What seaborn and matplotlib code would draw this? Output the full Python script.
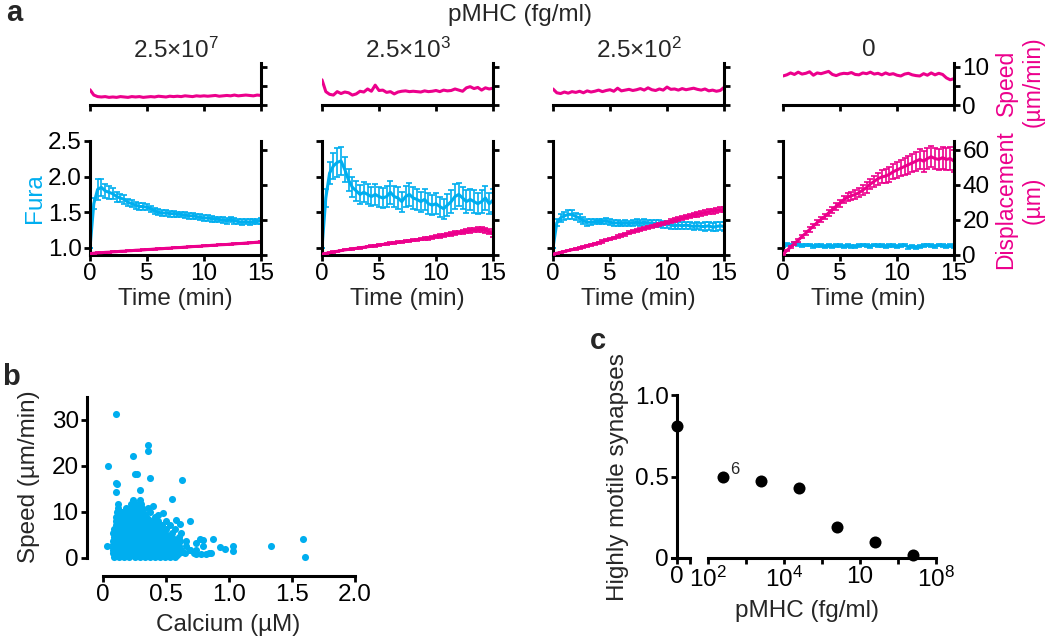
import numpy as np
import seaborn as sns
import matplotlib.pyplot as plt
from matplotlib.ticker import NullLocator

CYAN = "#00aeef"
MAGENTA = "#ec008c"

# ---- panel a: time courses (sampled every 20 s) ----
time_min = np.arange(46) / 3

titles = ["2.5×10$^{7}$", "2.5×10$^{3}$", "2.5×10$^{2}$", "0"]

speed_2_5e7 = [4.0, 2.6, 2.2, 2.1, 2.2, 2.0, 2.1, 2.0, 2.2, 2.1,
               2.0, 2.2, 2.1, 2.2, 2.0, 2.1, 2.2, 2.1, 2.3, 2.2,
               2.1, 2.3, 2.2, 2.3, 2.2, 2.4, 2.3, 2.2, 2.4, 2.3,
               2.4, 2.3, 2.4, 2.5, 2.3, 2.4, 2.5, 2.4, 2.6, 2.4,
               2.5, 2.6, 2.5, 2.4, 2.6, 2.5]
speed_2_5e3 = [6.6, 3.5, 2.8, 2.6, 3.5, 3.0, 3.4, 3.2, 2.6, 2.9,
               3.6, 3.4, 4.2, 3.6, 5.2, 3.8, 3.9, 3.3, 3.5, 2.9,
               3.4, 3.6, 3.7, 3.5, 3.6, 3.5, 3.4, 3.7, 3.5, 3.6,
               3.8, 3.5, 3.9, 3.7, 3.8, 4.2, 3.9, 3.6, 4.5, 4.8,
               4.3, 4.6, 3.9, 4.5, 4.2, 4.4]
speed_2_5e2 = [4.2, 3.2, 3.0, 3.4, 3.1, 3.5, 3.3, 3.6, 3.2, 3.7,
               3.4, 3.6, 3.9, 3.5, 3.8, 4.0, 3.6, 4.4, 3.7, 3.9,
               4.1, 3.8, 4.0, 4.3, 3.9, 4.5, 4.0, 3.8, 4.2, 3.9,
               4.7, 4.1, 4.2, 3.9, 4.3, 4.0, 4.2, 4.4, 4.1, 3.9,
               4.2, 3.7, 3.9, 3.6, 3.8, 4.6]
speed_0 = [7.6, 7.9, 8.4, 8.0, 8.6, 8.1, 8.3, 8.7, 7.8, 8.4,
           8.2, 8.5, 8.8, 8.0, 7.7, 8.1, 8.3, 8.2, 8.5, 8.0,
           7.9, 8.4, 8.2, 8.6, 8.1, 8.3, 7.9, 8.4, 8.0, 8.2,
           7.8, 7.6, 8.1, 8.3, 7.9, 7.7, 7.6, 8.2, 7.8, 8.4,
           7.9, 8.3, 8.0, 7.1, 6.6, 6.9]

fura_2_5e7 = [1.00, 1.62, 1.82, 1.85, 1.80, 1.78, 1.76, 1.72, 1.70, 1.68,
              1.64, 1.62, 1.60, 1.58, 1.58, 1.57, 1.55, 1.52, 1.50, 1.49,
              1.49, 1.48, 1.48, 1.47, 1.47, 1.46, 1.45, 1.45, 1.44, 1.43,
              1.42, 1.42, 1.41, 1.40, 1.40, 1.39, 1.38, 1.40, 1.38, 1.37,
              1.36, 1.37, 1.36, 1.37, 1.37, 1.38]
fura_2_5e7_err = [0.00, 0.08, 0.15, 0.12, 0.10, 0.09, 0.08, 0.07, 0.06, 0.06,
                  0.05, 0.05, 0.05, 0.05, 0.05, 0.04, 0.04, 0.04, 0.04, 0.04,
                  0.04, 0.04, 0.04, 0.04, 0.04, 0.04, 0.04, 0.04, 0.04, 0.04,
                  0.04, 0.04, 0.04, 0.04, 0.04, 0.04, 0.04, 0.04, 0.04, 0.04,
                  0.04, 0.04, 0.04, 0.04, 0.04, 0.04]
fura_2_5e3 = [1.00, 1.70, 2.05, 2.15, 2.20, 2.22, 2.10, 1.95, 1.85, 1.80,
              1.75, 1.78, 1.75, 1.72, 1.75, 1.72, 1.70, 1.72, 1.78, 1.72,
              1.70, 1.65, 1.72, 1.75, 1.70, 1.68, 1.65, 1.68, 1.62, 1.60,
              1.62, 1.58, 1.55, 1.60, 1.65, 1.72, 1.75, 1.70, 1.65, 1.68,
              1.65, 1.62, 1.65, 1.70, 1.62, 1.67]
fura_2_5e3_err = [0.00, 0.12, 0.15, 0.18, 0.20, 0.20, 0.18, 0.15, 0.14, 0.14,
                  0.13, 0.14, 0.14, 0.13, 0.15, 0.14, 0.14, 0.15, 0.16, 0.15,
                  0.15, 0.14, 0.15, 0.16, 0.15, 0.15, 0.14, 0.15, 0.15, 0.14,
                  0.15, 0.14, 0.14, 0.15, 0.16, 0.17, 0.16, 0.15, 0.16, 0.15,
                  0.16, 0.15, 0.16, 0.17, 0.15, 0.16]
fura_2_5e2 = [1.00, 1.35, 1.42, 1.45, 1.47, 1.47, 1.44, 1.42, 1.38, 1.36,
              1.36, 1.37, 1.37, 1.37, 1.38, 1.36, 1.35, 1.35, 1.34, 1.35,
              1.34, 1.35, 1.36, 1.35, 1.36, 1.35, 1.35, 1.34, 1.34, 1.33,
              1.33, 1.32, 1.31, 1.32, 1.31, 1.32, 1.31, 1.30, 1.31, 1.30,
              1.30, 1.31, 1.29, 1.30, 1.31, 1.30]
fura_2_5e2_err = [0.00, 0.05, 0.06, 0.06, 0.06, 0.06, 0.05, 0.05, 0.05, 0.05,
                  0.04, 0.04, 0.04, 0.04, 0.04, 0.04, 0.04, 0.04, 0.04, 0.04,
                  0.04, 0.04, 0.04, 0.04, 0.04, 0.04, 0.04, 0.05, 0.05, 0.05,
                  0.05, 0.05, 0.05, 0.05, 0.05, 0.05, 0.05, 0.05, 0.05, 0.05,
                  0.06, 0.06, 0.06, 0.06, 0.06, 0.06]
fura_0 = [1.02, 1.05, 1.04, 1.06, 1.05, 1.03, 1.04, 1.04, 1.02, 1.03,
          1.03, 1.02, 1.03, 1.02, 1.03, 1.03, 1.02, 1.03, 1.02, 1.02,
          1.03, 1.04, 1.03, 1.02, 1.04, 1.03, 1.03, 1.02, 1.03, 1.03,
          1.02, 1.03, 1.04, 1.01, 1.02, 1.01, 1.02, 1.03, 1.04, 1.03,
          1.02, 1.04, 1.03, 1.02, 1.03, 1.02]
fura_0_err = [0.01, 0.02, 0.02, 0.02, 0.02, 0.02, 0.02, 0.02, 0.02, 0.02,
              0.02, 0.02, 0.02, 0.02, 0.02, 0.02, 0.02, 0.02, 0.02, 0.02,
              0.02, 0.02, 0.02, 0.02, 0.02, 0.02, 0.02, 0.02, 0.02, 0.02,
              0.02, 0.02, 0.02, 0.02, 0.02, 0.02, 0.02, 0.02, 0.02, 0.02,
              0.02, 0.02, 0.02, 0.02, 0.02, 0.02]

disp_2_5e7 = [0.8, 1.0, 1.2, 1.3, 1.5, 1.6, 1.8, 1.9, 2.1, 2.2,
              2.4, 2.5, 2.7, 2.8, 2.9, 3.1, 3.2, 3.4, 3.5, 3.6,
              3.8, 3.9, 4.1, 4.2, 4.3, 4.5, 4.6, 4.8, 4.9, 5.0,
              5.2, 5.3, 5.5, 5.6, 5.8, 5.9, 6.0, 6.2, 6.3, 6.5,
              6.6, 6.8, 6.9, 7.1, 7.3, 7.5]
disp_2_5e7_err = [0.3, 0.3, 0.3, 0.3, 0.3, 0.3, 0.3, 0.3, 0.3, 0.3,
                  0.3, 0.3, 0.3, 0.3, 0.3, 0.3, 0.3, 0.3, 0.3, 0.3,
                  0.3, 0.3, 0.3, 0.3, 0.3, 0.3, 0.3, 0.3, 0.3, 0.3,
                  0.3, 0.3, 0.3, 0.3, 0.3, 0.3, 0.3, 0.3, 0.3, 0.3,
                  0.3, 0.3, 0.3, 0.3, 0.3, 0.3]
disp_2_5e3 = [0.5, 0.9, 1.3, 1.7, 2.1, 2.5, 2.9, 3.2, 3.5, 3.8,
              4.1, 4.4, 4.7, 5.0, 5.3, 5.7, 6.0, 6.3, 6.6, 6.9,
              7.2, 7.5, 7.8, 8.1, 8.4, 8.7, 9.0, 9.3, 9.6, 9.9,
              10.4, 10.8, 11.2, 11.6, 12.0, 12.4, 12.8, 13.2, 13.6, 14.0,
              14.3, 14.5, 14.6, 14.2, 13.2, 12.0]
disp_2_5e3_err = [0.2, 0.2, 0.2, 0.3, 0.3, 0.3, 0.3, 0.3, 0.4, 0.4,
                  0.4, 0.4, 0.4, 0.5, 0.5, 0.5, 0.5, 0.5, 0.6, 0.6,
                  0.6, 0.6, 0.6, 0.7, 0.7, 0.7, 0.7, 0.8, 0.8, 0.8,
                  0.8, 0.9, 0.9, 0.9, 1.0, 1.0, 1.0, 1.1, 1.1, 1.2,
                  1.2, 1.3, 1.3, 1.4, 1.4, 1.5]
disp_2_5e2 = [0.5, 1.0, 1.5, 2.0, 2.5, 3.0, 3.5, 4.0, 4.6, 5.2,
              5.8, 6.4, 7.0, 7.7, 8.4, 9.1, 9.8, 10.5, 11.2, 11.9,
              12.6, 13.3, 14.0, 14.6, 15.2, 15.8, 16.3, 16.9, 17.4, 18.0,
              18.6, 19.2, 19.8, 20.4, 21.0, 21.6, 22.2, 22.7, 23.2, 23.7,
              24.2, 24.6, 25.0, 25.4, 25.8, 26.0]
disp_2_5e2_err = [0.3, 0.3, 0.3, 0.4, 0.4, 0.4, 0.4, 0.5, 0.5, 0.5,
                  0.5, 0.6, 0.6, 0.6, 0.6, 0.7, 0.7, 0.7, 0.7, 0.8,
                  0.8, 0.8, 0.8, 0.9, 0.9, 0.9, 0.9, 1.0, 1.0, 1.0,
                  1.0, 1.1, 1.1, 1.1, 1.2, 1.2, 1.2, 1.3, 1.3, 1.3,
                  1.4, 1.4, 1.4, 1.5, 1.5, 1.5]
disp_0 = [0.5, 2.5, 4.5, 6.5, 8.5, 10.5, 12.5, 14.5, 16.5, 18.5,
          20.3, 22.0, 24.0, 25.8, 27.8, 29.5, 31.5, 33.0, 33.8, 34.5,
          35.5, 37.0, 38.5, 40.5, 42.0, 43.5, 44.5, 45.0, 46.0, 47.5,
          48.5, 49.5, 50.5, 51.5, 52.5, 53.5, 54.5, 53.5, 55.0, 56.0,
          55.0, 54.5, 55.5, 54.5, 55.0, 53.5]
disp_0_err = [0.3, 0.5, 0.6, 0.8, 0.9, 1.0, 1.1, 1.2, 1.3, 1.4,
              1.5, 1.6, 1.7, 1.8, 1.9, 2.0, 2.1, 2.2, 2.3, 2.4,
              2.5, 2.7, 2.9, 3.1, 3.3, 3.5, 3.7, 3.9, 4.1, 4.3,
              4.5, 4.7, 4.9, 5.1, 5.3, 5.5, 5.7, 5.9, 6.0, 6.1,
              6.2, 6.2, 6.3, 6.3, 6.4, 6.4]

# ---- panel b: calcium vs speed scatter ----
outlier_calcium = [0.106, 0.357, 0.36, 0.235, 0.04, 0.25, 0.27, 0.37, 0.625, 0.10,
                   0.11, 0.10, 0.29, 0.55, 0.40, 0.48, 0.44, 0.69, 0.58, 0.61,
                   0.875, 0.79, 0.93, 0.97, 1.03, 1.03, 1.33, 1.59, 1.60, 0.03,
                   0.86, 0.82, 0.78, 0.77, 0.74, 0.79, 0.69, 0.84, 0.74]
outlier_speed = [31.3, 24.6, 23.2, 22.2, 20.1, 18.3, 18.2, 17.5, 17.0, 16.3,
                 16.1, 14.3, 14.7, 12.8, 11.2, 9.8, 9.3, 8.1, 8.3, 7.3,
                 4.2, 3.9, 2.3, 2.0, 2.6, 1.6, 2.6, 4.2, 0.2, 2.6,
                 1.1, 0.8, 0.9, 4.1, 3.2, 2.6, 1.7, 1.0, 0.8]
# dense cloud, one row of calcium values per speed level
core_rows = [
    (0.3, [0.09, 0.13, 0.17, 0.21, 0.25, 0.29, 0.33, 0.37, 0.41, 0.45, 0.49, 0.53, 0.57]),
    (0.65, [0.11, 0.15, 0.19, 0.23, 0.27, 0.31, 0.35, 0.39, 0.43, 0.47, 0.51, 0.55, 0.59]),
    (1.0, [0.08, 0.12, 0.16, 0.20, 0.24, 0.28, 0.32, 0.36, 0.40, 0.44, 0.48, 0.52, 0.56, 0.60, 0.65, 0.72]),
    (1.4, [0.10, 0.14, 0.18, 0.22, 0.26, 0.30, 0.34, 0.38, 0.42, 0.46, 0.50, 0.54, 0.58, 0.63]),
    (1.8, [0.08, 0.12, 0.16, 0.20, 0.24, 0.28, 0.32, 0.36, 0.40, 0.44, 0.48, 0.52, 0.57, 0.62, 0.69, 0.74]),
    (2.25, [0.10, 0.14, 0.18, 0.22, 0.26, 0.30, 0.34, 0.38, 0.42, 0.46, 0.50, 0.54, 0.58]),
    (2.7, [0.07, 0.11, 0.15, 0.19, 0.23, 0.27, 0.31, 0.35, 0.39, 0.43, 0.47, 0.51, 0.55, 0.60, 0.66]),
    (3.15, [0.10, 0.14, 0.18, 0.22, 0.26, 0.30, 0.34, 0.38, 0.42, 0.46, 0.50, 0.54, 0.58]),
    (3.6, [0.08, 0.12, 0.16, 0.20, 0.24, 0.28, 0.32, 0.36, 0.40, 0.44, 0.48, 0.52, 0.56, 0.61, 0.66]),
    (4.05, [0.11, 0.15, 0.19, 0.23, 0.27, 0.31, 0.35, 0.39, 0.43, 0.47, 0.51, 0.56]),
    (4.5, [0.09, 0.13, 0.17, 0.21, 0.25, 0.29, 0.33, 0.37, 0.41, 0.45, 0.49, 0.53, 0.60]),
    (4.95, [0.10, 0.14, 0.18, 0.22, 0.26, 0.30, 0.34, 0.38, 0.42, 0.46, 0.51]),
    (5.4, [0.08, 0.12, 0.16, 0.20, 0.24, 0.28, 0.32, 0.36, 0.40, 0.44, 0.48, 0.55, 0.62]),
    (5.85, [0.11, 0.15, 0.19, 0.23, 0.27, 0.31, 0.35, 0.39, 0.43, 0.47]),
    (6.3, [0.09, 0.13, 0.17, 0.21, 0.25, 0.29, 0.33, 0.37, 0.41, 0.45, 0.50, 0.57]),
    (6.75, [0.12, 0.16, 0.20, 0.24, 0.28, 0.32, 0.36, 0.40, 0.44]),
    (7.2, [0.10, 0.14, 0.18, 0.22, 0.26, 0.30, 0.34, 0.38, 0.42, 0.47, 0.53]),
    (7.65, [0.12, 0.16, 0.20, 0.24, 0.28, 0.32, 0.36, 0.40]),
    (8.1, [0.10, 0.14, 0.18, 0.22, 0.26, 0.30, 0.34, 0.38, 0.44, 0.50]),
    (8.55, [0.12, 0.16, 0.20, 0.24, 0.28, 0.32, 0.36]),
    (9.0, [0.10, 0.14, 0.18, 0.22, 0.26, 0.30, 0.34, 0.41]),
    (9.45, [0.12, 0.17, 0.21, 0.25, 0.29, 0.33]),
    (9.9, [0.11, 0.15, 0.20, 0.24, 0.28, 0.32, 0.37]),
    (10.8, [0.12, 0.18, 0.23, 0.27, 0.31, 0.36]),
    (11.7, [0.12, 0.22, 0.26, 0.30]),
    (12.6, [0.24, 0.29]),
]

# ---- panel c: fraction of highly motile synapses ----
pmhc_conc = [0, 2.5e2, 2.5e3, 2.5e4, 2.5e5, 2.5e6, 2.5e7]
motile_frac = [0.81, 0.50, 0.47, 0.43, 0.19, 0.10, 0.02]


FS = 17.5
sns.set_theme(style="ticks")
plt.rcParams.update({
    "font.family": ["Liberation Sans", "DejaVu Sans"],
    "mathtext.fontset": "custom",
    "mathtext.rm": "Liberation Sans",
    "mathtext.it": "Liberation Sans:italic",
    "mathtext.bf": "Liberation Sans:bold",
    "axes.linewidth": 2.2,
    "axes.edgecolor": "black",
    "xtick.major.width": 2.0,
    "ytick.major.width": 2.0,
    "xtick.major.size": 4.5,
    "ytick.major.size": 4.5,
    "xtick.labelsize": FS,
    "ytick.labelsize": FS,
    "xtick.color": "black",
    "ytick.color": "black",
    "xtick.major.pad": 1.5,
    "ytick.major.pad": 1.5,
})

W, H = 1050, 638
fig = plt.figure(figsize=(W / 100, H / 100), dpi=100)


def px_axes(l, t, r, b):
    return fig.add_axes([l / W, 1 - b / H, (r - l) / W, (b - t) / H])


def px_text(x, y, s, **kw):
    kw.setdefault("ha", "center")
    kw.setdefault("va", "center")
    kw.setdefault("fontsize", FS)
    fig.text(x / W, 1 - y / H, s, **kw)


columns = [
    (speed_2_5e7, fura_2_5e7, fura_2_5e7_err, disp_2_5e7, disp_2_5e7_err),
    (speed_2_5e3, fura_2_5e3, fura_2_5e3_err, disp_2_5e3, disp_2_5e3_err),
    (speed_2_5e2, fura_2_5e2, fura_2_5e2_err, disp_2_5e2, disp_2_5e2_err),
    (speed_0, fura_0, fura_0_err, disp_0, disp_0_err),
]
col_left = [90, 322, 553, 783]
col_w = 171

for i, (speed, fura, fura_e, disp, disp_e) in enumerate(columns):
    left = col_left[i]
    right = left + col_w
    last = i == len(columns) - 1

    # speed strip on top
    ax_s = px_axes(left, 63, right, 105)
    sns.lineplot(x=time_min, y=speed, ax=ax_s, color=MAGENTA, lw=2.2)
    ax_s.set_xlim(0, 15)
    ax_s.set_ylim(0, 11)
    ax_s.spines[["top", "left"]].set_visible(False)
    ax_s.yaxis.tick_right()
    ax_s.set_yticks([0, 5, 10])
    ax_s.set_yticklabels(["0", "", "10"] if last else [])
    ax_s.set_xticks([0, 5, 10, 15])
    ax_s.set_xticklabels([])
    ax_s.set_xlabel("")
    ax_s.set_ylabel("")

    # fura (left) + displacement (right)
    ax_f = px_axes(left, 141, right, 255)
    ax_f.errorbar(time_min, fura, yerr=fura_e, fmt="none", ecolor=CYAN,
                  elinewidth=1.2, capsize=2.2, capthick=1.2)
    sns.lineplot(x=time_min, y=fura, ax=ax_f, color=CYAN, lw=2.2)
    ax_f.set_xlim(0, 15)
    ax_f.set_ylim(0.9, 2.5)
    ax_f.set_yticks([1.0, 1.5, 2.0, 2.5])
    ax_f.set_xticks([0, 5, 10, 15])
    if i == 0:
        ax_f.set_yticklabels(["1.0", "1.5", "2.0", "2.5"])
    else:
        ax_f.set_yticklabels([])
    ax_f.spines[["top", "right"]].set_visible(False)
    ax_f.set_xlabel("")
    ax_f.set_ylabel("")

    ax_d = ax_f.twinx()
    ax_d.errorbar(time_min, disp, yerr=disp_e, fmt="none", ecolor=MAGENTA,
                  elinewidth=1.2, capsize=2.2, capthick=1.2)
    sns.lineplot(x=time_min, y=disp, ax=ax_d, color=MAGENTA, lw=2.2)
    ax_d.set_xlim(0, 15)
    ax_d.set_ylim(0, 65)
    ax_d.set_yticks([0, 20, 40, 60])
    if not last:
        ax_d.set_yticklabels([])
    ax_d.spines[["top", "left", "bottom"]].set_visible(False)
    ax_d.set_ylabel("")

    px_text(left + col_w / 2, 50, titles[i])
    px_text(left + col_w / 2, 299, "Time (min)")

px_text(6, 13, "a", ha="left", fontsize=21, fontweight="bold")
px_text(520, 15, "pMHC (fg/ml)")
px_text(35, 198, "Fura", rotation=90, color=CYAN)
px_text(1006, 83, "Speed", rotation=90, color=MAGENTA, fontsize=16.5)
px_text(1033, 82, "(µm/min)", rotation=90, color=MAGENTA, fontsize=16.5)
px_text(1006, 200, "Displacement", rotation=90, color=MAGENTA, fontsize=16.5)
px_text(1033, 200, "(µm)", rotation=90, color=MAGENTA, fontsize=16.5)

# ---- panel b ----
calcium = outlier_calcium + [x for y, xs in core_rows for x in xs]
speed_b = outlier_speed + [y for y, xs in core_rows for x in xs]

ax_b = px_axes(103, 397, 355, 558)
sns.scatterplot(x=calcium, y=speed_b, ax=ax_b, color=CYAN, s=26,
                linewidth=0, clip_on=False)
ax_b.set_xlim(0, 2)
ax_b.set_ylim(0, 35)
ax_b.set_xticks([0, 0.5, 1.0, 1.5, 2.0])
ax_b.set_xticklabels(["0", "0.5", "1.0", "1.5", "2.0"])
ax_b.set_yticks([0, 10, 20, 30])
ax_b.spines[["top", "right"]].set_visible(False)
ax_b.spines["left"].set_position(("outward", 11.5))
ax_b.spines["bottom"].set_position(("outward", 13))
px_text(2, 377, "b", ha="left", fontsize=21, fontweight="bold")
px_text(29, 477, "Speed (µm/min)", rotation=90)
px_text(228, 625, "Calcium (µM)")

# ---- panel c: broken x axis, zero on its own stub ----
ax0 = px_axes(672, 395, 690, 558)
sns.scatterplot(x=pmhc_conc[:1], y=motile_frac[:1], ax=ax0, color="black",
                s=75, linewidth=0, clip_on=False, zorder=5)
ax0.set_xlim(-0.28, 0.72)
ax0.set_ylim(0, 1.0)
ax0.spines[["top", "right"]].set_visible(False)
ax0.spines["left"].set_position(("data", 0))
ax0.set_xticks([0, 0.72])
ax0.set_xticklabels(["0", ""])
ax0.set_yticks([0, 0.5, 1.0])
ax0.set_yticklabels(["0", "0.5", "1.0"])

ax_l = px_axes(708, 395, 936, 558)
sns.scatterplot(x=pmhc_conc[1:], y=motile_frac[1:], ax=ax_l, color="black",
                s=75, linewidth=0, clip_on=False, zorder=5)
ax_l.set_xscale("log")
ax_l.set_xlim(1e2, 1e8)
ax_l.set_ylim(0, 1.0)
ax_l.spines[["top", "right", "left"]].set_visible(False)
ax_l.set_yticks([])
ax_l.set_xticks([1e2, 1e3, 1e4, 1e5, 1e6, 1e7, 1e8])
ax_l.set_xticklabels(["$10^{2}$", "", "$10^{4}$", "", "10", "", "$10^{8}$"])
ax_l.xaxis.set_minor_locator(NullLocator())
ax_l.text(5.2e2, 0.545, "6", fontsize=12, ha="center", va="center")

px_text(590, 341, "c", ha="left", fontsize=21, fontweight="bold")
px_text(618, 477, "Highly motile synapses", rotation=90)
px_text(807, 611, "pMHC (fg/ml)")

fig.savefig("out.png", dpi=100)
